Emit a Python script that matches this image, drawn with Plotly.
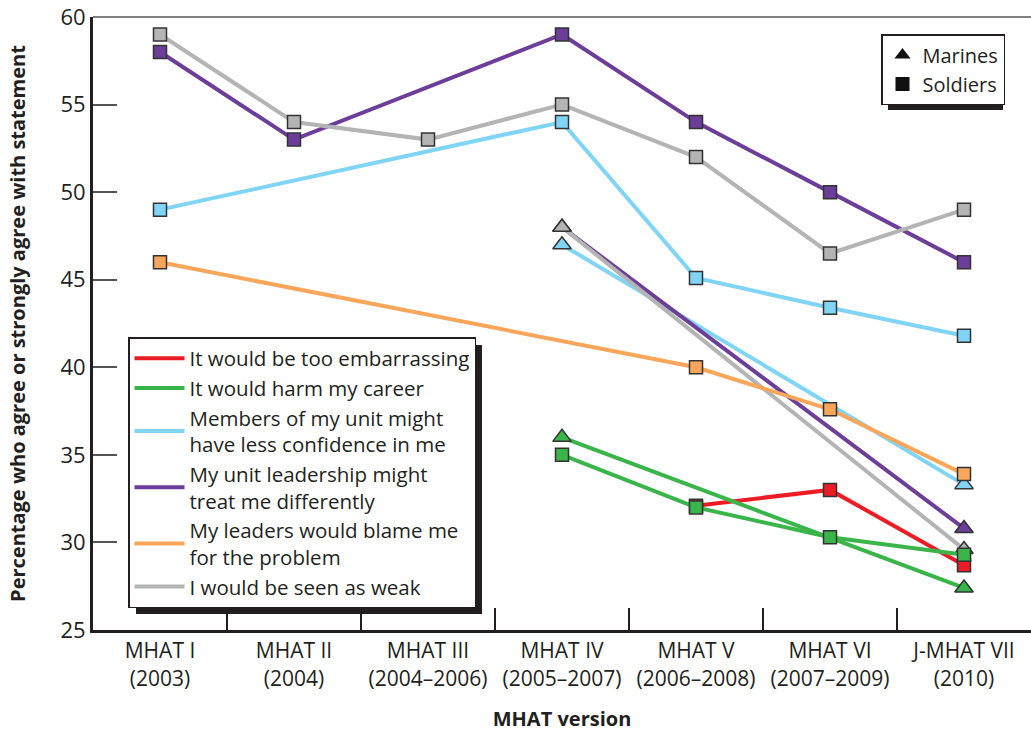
import plotly.graph_objects as go

categories = ["MHAT I<br>(2003)", "MHAT II<br>(2004)", "MHAT III<br>(2004–2006)",
              "MHAT IV<br>(2005–2007)", "MHAT V<br>(2006–2008)", "MHAT VI<br>(2007–2009)",
              "J-MHAT VII<br>(2010)"]

# Soldiers (squares)
embarrass_soldiers = [None, None, None, None, 32.1, 33.0, 28.7]
career_soldiers = [None, None, None, 35.0, 32.0, 30.3, 29.3]
confidence_soldiers = [49.0, None, None, 54.0, 45.1, 43.4, 41.8]
leadership_soldiers = [58.0, 53.0, None, 59.0, 54.0, 50.0, 46.0]
blame_soldiers = [46.0, None, None, None, 40.0, 37.6, 33.9]
weak_soldiers = [59.0, 54.0, 53.0, 55.0, 52.0, 46.5, 49.0]

# Marines (triangles)
career_marines = [None, None, None, 36.0, None, None, 27.4]
confidence_marines = [None, None, None, 47.0, None, None, 33.3]
leadership_marines = [None, None, None, 48.0, None, None, 30.8]
weak_marines = [None, None, None, 48.0, None, None, 29.6]

statements = ["It would be too embarrassing", "It would harm my career",
              "Members of my unit might<br>have less confidence in me",
              "My unit leadership might<br>treat me differently",
              "My leaders would blame me<br>for the problem",
              "I would be seen as weak"]
colors = ["#ED1C24", "#39B54A", "#80D4F6", "#6C3E99", "#F9A65A", "#B4B4B4"]
group_labels = ["Marines", "Soldiers"]

FONT = "Open Sans"
DARK = "#231F20"

fig = go.Figure()

def add_series(values, color, symbol, size):
    fig.add_trace(go.Scatter(
        x=categories, y=values, mode="lines+markers", connectgaps=True,
        line=dict(color=color, width=4),
        marker=dict(symbol=symbol, size=size, color=color,
                    line=dict(color="#333333", width=1.5)),
        showlegend=False, hoverinfo="skip"))

# drawing order: light blue, purple, gray, orange, red, green
add_series(confidence_marines, colors[2], "triangle-up", 16)
add_series(confidence_soldiers, colors[2], "square", 13)
add_series(leadership_marines, colors[3], "triangle-up", 16)
add_series(leadership_soldiers, colors[3], "square", 13)
add_series(weak_marines, colors[5], "triangle-up", 16)
add_series(weak_soldiers, colors[5], "square", 13)
add_series(blame_soldiers, colors[4], "square", 13)
add_series(embarrass_soldiers, colors[0], "square", 13)
add_series(career_marines, colors[1], "triangle-up", 16)
add_series(career_soldiers, colors[1], "square", 13)

# legend entries (statements)
for name, col in zip(statements, colors):
    fig.add_trace(go.Scatter(x=[None], y=[None], mode="lines", name=name,
                             line=dict(color=col, width=4), legend="legend"))
# legend entries (groups)
for name, sym in zip(group_labels, ["triangle-up", "square"]):
    fig.add_trace(go.Scatter(x=[None], y=[None], mode="markers", name=name,
                             marker=dict(symbol=sym, size=14, color="#111111"),
                             legend="legend2"))

W, H = 1031, 732
ml, mr, mt, mb = 93, 0, 17, 102
pw, ph = W - ml - mr, H - mt - mb

def px_x(p):
    return (p - ml) / pw

def px_y(p):
    return (H - mb - p) / ph

shapes = [
    # top border line
    dict(type="line", xref="paper", yref="paper", x0=0, x1=1, y0=1, y1=1,
         line=dict(color="#555555", width=1.5), layer="above"),
    # shadow for statement legend
    dict(type="rect", xref="paper", yref="paper",
         x0=px_x(136), x1=px_x(482), y0=px_y(614), y1=px_y(345),
         fillcolor=DARK, line=dict(width=0), layer="above"),
    # shadow for group legend
    dict(type="rect", xref="paper", yref="paper",
         x0=px_x(888), x1=px_x(1003), y0=px_y(110), y1=px_y(41),
         fillcolor=DARK, line=dict(width=0), layer="above"),
]

fig.update_layout(
    width=W, height=H,
    margin=dict(l=ml, r=mr, t=mt, b=mb, pad=0, autoexpand=False),
    paper_bgcolor="white", plot_bgcolor="white",
    font=dict(family=FONT, color=DARK, size=21),
    shapes=shapes,
    xaxis=dict(
        type="category", range=[-0.5, 6.5], tickson="boundaries", automargin=False,
        ticks="inside", ticklen=22, tickwidth=1.5, tickcolor=DARK,
        showline=True, linecolor=DARK, linewidth=3, showgrid=False, zeroline=False,
        tickfont=dict(size=21, color=DARK),
        title=dict(text="MHAT version", font=dict(size=20, weight="bold", color=DARK),
                   standoff=22),
    ),
    yaxis=dict(
        range=[25, 60], tickvals=[25, 30, 35, 40, 45, 50, 55, 60], automargin=False,
        ticks="inside", ticklen=24, tickwidth=1.5, tickcolor="#555555",
        showline=True, linecolor=DARK, linewidth=3, showgrid=False, zeroline=False,
        tickfont=dict(size=22, color=DARK),
        title=dict(text="Percentage who agree or strongly agree with statement",
                   font=dict(size=20, weight="bold", color=DARK), standoff=30),
    ),
    legend=dict(
        x=px_x(128), y=px_y(337), xanchor="left", yanchor="top",
        bgcolor="white", bordercolor=DARK, borderwidth=1.5,
        font=dict(size=20.5, color=DARK), itemwidth=50, tracegroupgap=0,
        itemclick=False, itemdoubleclick=False,
    ),
    legend2=dict(
        x=px_x(881), y=px_y(34), xanchor="left", yanchor="top",
        bgcolor="white", bordercolor=DARK, borderwidth=1.5,
        font=dict(size=20, color=DARK), itemwidth=30,
        itemclick=False, itemdoubleclick=False,
    ),
)

fig.write_html("out.html", config={"displayModeBar": False},
               post_script="document.body.style.margin='0';document.body.style.padding='0';")
